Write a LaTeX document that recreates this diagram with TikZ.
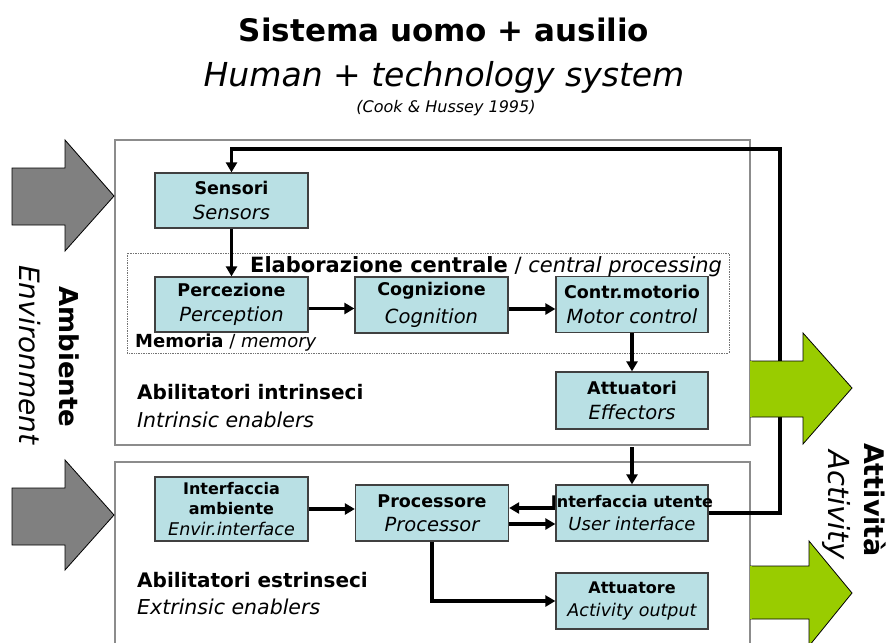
\documentclass[tikz,border=0pt]{standalone}
\usepackage{fontspec}
\setmainfont{DejaVu Sans}
\usetikzlibrary{arrows.meta,positioning,calc}
\definecolor{boxcyan}{HTML}{B9E0E4}
\definecolor{framegray}{HTML}{8C8C8C}
\definecolor{envgray}{HTML}{808080}
\definecolor{actgreen}{HTML}{99CC00}
\newcommand{\fs}[1]{\fontsize{#1}{#1}\selectfont}
\newcommand{\bl}[2]{{\fs{#1}\bfseries #2}}
\newcommand{\il}[2]{{\fs{#1}\itshape #2}}
\tikzset{
    >={Triangle[length=10pt,width=11pt]},
    block/.style={
        rectangle,
        draw=black!75, line width=1.3pt,
        fill=boxcyan,
        minimum width=153pt,
        minimum height=56pt,
        inner sep=0pt,
        align=center
    },
    frame/.style={draw=framegray, line width=2.6pt},
    flow/.style={draw, line width=3.4pt, ->},
    bigarrow/.style={draw=black, line width=0.8pt, line join=miter},
    caption/.style={anchor=west, inner sep=0pt, align=left, font=\fs{20}},
}

\begin{document}
\begin{tikzpicture}[x=1pt,y=-1pt]
\useasboundingbox (0,0) rectangle (888,642);
% title
\node (title) at (444,30) {\fs{31}\bfseries Sistema uomo + ausilio};
\node (subtitle) at (444,77) {\fs{33}\itshape Human + technology system};
\node (source) at (446,108) {\fs{16}\itshape (Cook \& Hussey 1995)};
% frames of the two enablers
\draw[frame] (115,140) rectangle (750,445);
\draw[frame] (115,462) rectangle (750,660);
\draw[densely dotted, draw=black!55, line width=0.7pt] (127,253) rectangle (729,353);
% blocks
\node[block, minimum height=55pt] (sens) at (231.5,200.5) {\bl{17.5}{Sensori}\\[9pt]\il{19.5}{Sensors}};
\node[block, minimum height=55pt] (perc) at (231.5,304.5) {\bl{17.5}{Percezione}\\[9pt]\il{19.5}{Perception}};
\node[block] (cogn) at (431.5,305) {\bl{17.5}{Cognizione}\\[9pt]\il{19.5}{Cognition}};
\node[block, minimum width=152pt] (motor) at (632,304.5) {\bl{17.5}{Contr.motorio}\\[9pt]\il{19.5}{Motor control}};
\node[block, minimum width=152pt, minimum height=57pt] (att1) at (632,400.5) {\bl{17.5}{Attuatori}\\[9pt]\il{19.5}{Effectors}};
\node[block, minimum height=64pt] (intamb) at (231.5,509) {\bl{16}{Interfaccia}\\[7pt]\bl{16}{ambiente}\\[6pt]\il{17.5}{Envir.interface}};
\node[block] (proc) at (432,513) {\bl{17.5}{Processore}\\[9pt]\il{19.5}{Processor}};
\node[block, minimum width=152pt] (intut) at (632,513) {\makebox[150pt][c]{\bl{16}{Interfaccia utente}}\\[9pt]\il{18}{User interface}};
\node[block, minimum width=152pt] (att2) at (632,601) {\bl{16}{Attuatore}\\[9pt]\il{17.5}{Activity output}};
% labels
\node[anchor=base west, inner sep=0pt, font=\fs{21}] (centr) at (250,272) {\textbf{Elaborazione centrale} / \textit{central processing}};
\node[caption, font=\fs{18}] (mem) at (135,343) {\textbf{Memoria} / \textit{memory}};
\node[caption] (intr) at (137,392) {\bfseries Abilitatori intrinseci};
\node[caption, font=\fs{20.5}] (intren) at (137,420) {\itshape Intrinsic enablers};
\node[caption] (extr) at (137,580) {\bfseries Abilitatori estrinseci};
\node[caption, font=\fs{20.5}] (extren) at (137,607) {\itshape Extrinsic enablers};
\node[rotate=-90, font=\fs{26}\bfseries] (amb) at (69,357) {Ambiente};
\node[rotate=-90, font=\fs{28}\itshape] (env) at (30,355) {Environment};
\node[rotate=-90, font=\fs{27}\bfseries] (attiv) at (875,500) {Attività};
\node[rotate=-90, font=\fs{29}\itshape] (activ) at (836,505) {Activity};
% connectors
\coordinate (fbR) at (780,149);
\coordinate (gapTop) at (632,447);
\draw[flow] (intut.east) -| (fbR) -| (sens.north);
\draw[flow] (sens.south) -- (perc.north);
\draw[flow] ([yshift=-4pt]perc.east) -- ([yshift=-4pt]perc.east -| cogn.west);
\draw[flow] ([yshift=-4pt]cogn.east) -- ([yshift=-4pt]cogn.east -| motor.west);
\draw[flow] (motor.south) -- (att1.north);
\draw[flow] (gapTop) -- (intut.north);
\draw[flow] (intamb.east) -- (intamb.east -| proc.west);
\draw[flow] ([yshift=5pt]intut.west) -- ([yshift=5pt]intut.west -| proc.east);
\draw[flow] ([yshift=-11pt]proc.east) -- ([yshift=-11pt]proc.east -| intut.west);
\draw[flow] (proc.south) |- (att2.west);
% environment and activity arrows
\draw[bigarrow, fill=envgray] (12,168) -- (65,168) -- (65,140) -- (114,196) -- (65,251) -- (65,225) -- (12,225) -- cycle;
\draw[bigarrow, fill=envgray] (12,488) -- (65,488) -- (65,460) -- (114,515) -- (65,570) -- (65,545) -- (12,545) -- cycle;
\draw[bigarrow, fill=actgreen] (750,361) -- (803,361) -- (803,333) -- (852,388) -- (803,444) -- (803,417) -- (750,417);
\fill[actgreen] (750,361) rectangle (752,417);
\draw[bigarrow, fill=actgreen] (750,566) -- (809,566) -- (809,541) -- (852,593) -- (809,646) -- (809,619) -- (750,619);
\fill[actgreen] (750,566) rectangle (752,619);
\end{tikzpicture}
\end{document}
